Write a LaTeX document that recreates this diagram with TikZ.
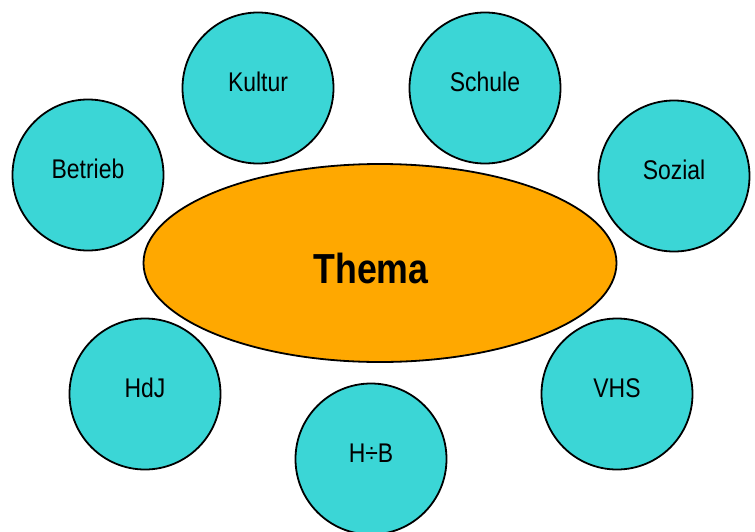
\documentclass[tikz,border=0pt]{standalone}
\usepackage{fontspec}
\setmainfont{Liberation Sans}[FakeStretch=0.85]
\usetikzlibrary{shapes.geometric}
\definecolor{bubcol}{HTML}{3BD6D6}
\definecolor{themacol}{HTML}{FFA800}
\begin{document}
\begin{tikzpicture}[x=1pt,y=-1pt,
  bub/.style={circle, draw=black, line width=1.8pt, fill=bubcol, minimum size=151pt, inner sep=0pt},
  lab/.style={font=\fontsize{27}{32}\selectfont, yshift=6pt, inner sep=0pt},
  themabox/.style={ellipse, draw=black, line width=1.8pt, fill=themacol, minimum width=473pt, minimum height=198pt, inner sep=0pt}]
\useasboundingbox (0,0) rectangle (755,531);
\node[themabox] (thema) at (380,263) {};
\node[font=\bfseries\fontsize{42}{50}\selectfont, inner sep=0pt] (themalab) at (371,268) {Thema};
\node[bub, label={[lab]center:Kultur}] (kultur) at (258,88) {};
\node[bub, label={[lab]center:Schule}] (schule) at (485,88) {};
\node[bub, label={[lab]center:Betrieb}] (betrieb) at (88,175) {};
\node[bub, label={[lab]center:Sozial}] (sozial) at (674,176) {};
\node[bub, label={[lab]center:HdJ}] (hdj) at (145,394) {};
\node[bub, label={[lab]center:VHS}] (vhs) at (617,394) {};
\node[bub, label={[lab]center:H÷B}] (hb) at (371,459) {};
\end{tikzpicture}
\end{document}
